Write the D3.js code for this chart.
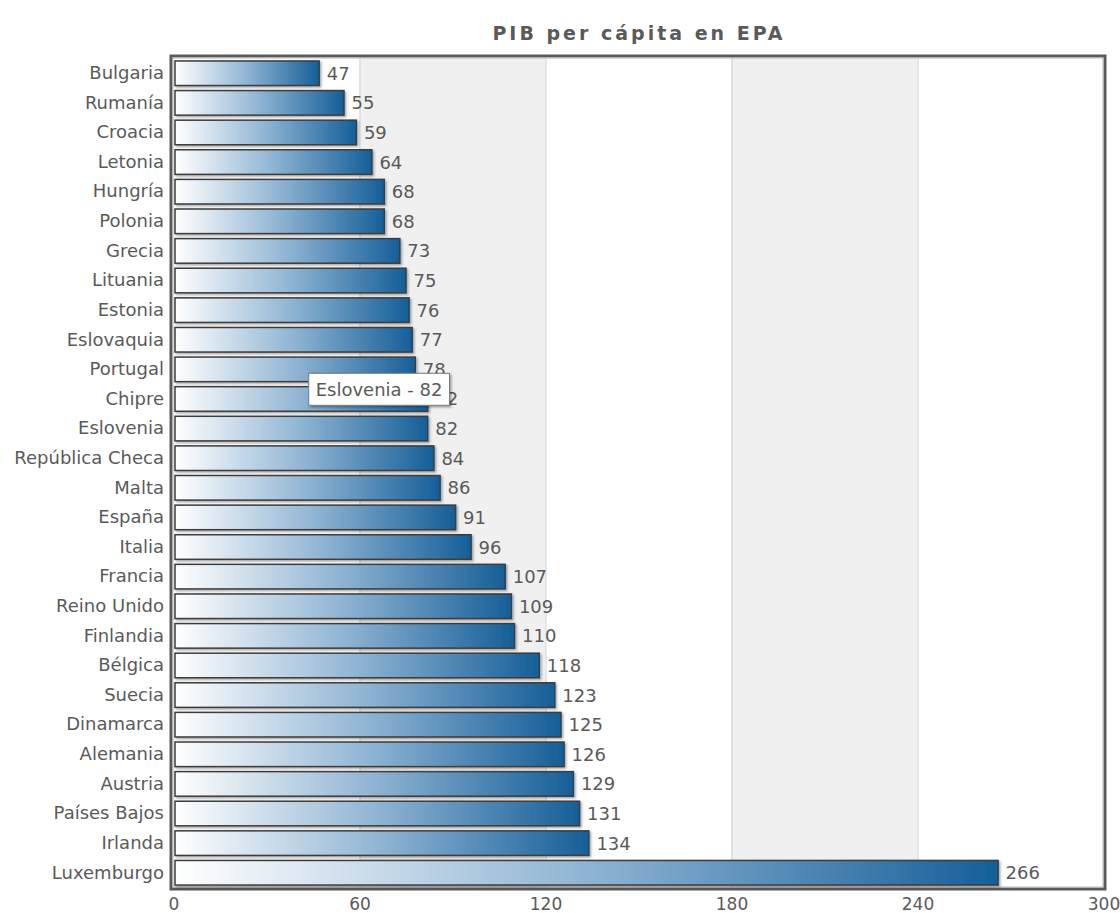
<!DOCTYPE html>
<html>
<head>
<meta charset="utf-8">
<script src="https://cdn.jsdelivr.net/npm/d3@7"></script>
<style>
  body { margin: 0; background: #fff; }
  text { font-family: "DejaVu Sans", Verdana, sans-serif; fill: #5a5a5a; }
</style>
</head>
<body>
<div id="chart"></div>
<script>
const countries = ["Bulgaria", "Rumanía", "Croacia", "Letonia", "Hungría", "Polonia", "Grecia",
  "Lituania", "Estonia", "Eslovaquia", "Portugal", "Chipre", "Eslovenia", "República Checa",
  "Malta", "España", "Italia", "Francia", "Reino Unido", "Finlandia", "Bélgica", "Suecia",
  "Dinamarca", "Alemania", "Austria", "Países Bajos", "Irlanda", "Luxemburgo"];
const values = [47, 55, 59, 64, 68, 68, 73, 75, 76, 77, 78, 82, 82, 84, 86, 91, 96, 107, 109,
  110, 118, 123, 125, 126, 129, 131, 134, 266];
const xTicks = [0, 60, 120, 180, 240, 300];
const title = "PIB per cápita en EPA";
const tooltipCountry = "Eslovenia";

const width = 1120, height = 913;
const frame = { left: 171, top: 56, right: 1105, bottom: 889 };
const font = '"DejaVu Sans", Verdana, sans-serif';

const data = countries.map((c, i) => ({ country: c, value: values[i] }));

const svg = d3.select('#chart').append('svg')
  .attr('width', width).attr('height', height);

const defs = svg.append('defs');
const grad = defs.append('linearGradient').attr('id', 'barGrad')
  .attr('x1', '0%').attr('x2', '100%').attr('y1', '0%').attr('y2', '0%');
grad.append('stop').attr('offset', '0%').attr('stop-color', '#ffffff');
grad.append('stop').attr('offset', '50%').attr('stop-color', '#8fb4d3');
grad.append('stop').attr('offset', '100%').attr('stop-color', '#165f98');

const shadow = defs.append('filter').attr('id', 'shadow')
  .attr('x', '-10%').attr('y', '-10%').attr('width', '130%').attr('height', '140%');
shadow.append('feDropShadow').attr('dx', 1.5).attr('dy', 1.5)
  .attr('stdDeviation', 1).attr('flood-color', '#000').attr('flood-opacity', 0.35);

const x = d3.scaleLinear().domain([0, 300]).range([173.5, 1103.5]);
const y = d3.scaleBand().domain(countries)
  .range([frame.top + 2, frame.bottom - 1]).paddingInner(0.17).paddingOuter(0.1);

// alternating bands
const bands = d3.pairs(xTicks);
svg.append('g').selectAll('rect').data(bands).join('rect')
  .attr('x', d => x(d[0])).attr('width', d => x(d[1]) - x(d[0]))
  .attr('y', frame.top).attr('height', frame.bottom - frame.top)
  .attr('fill', (d, i) => i % 2 ? '#f0f0f0' : '#fff');

// gridlines
svg.append('g')
  .attr('transform', `translate(0, ${frame.top})`)
  .call(d3.axisTop(x).tickValues(xTicks.slice(1, -1)).tickFormat('').tickSize(-(frame.bottom - frame.top)))
  .call(g => g.select('.domain').remove())
  .call(g => g.selectAll('line').attr('stroke', '#cfcfcf'));

// frame
svg.append('rect')
  .attr('x', frame.left).attr('y', frame.top)
  .attr('width', frame.right - frame.left).attr('height', frame.bottom - frame.top)
  .attr('fill', 'none').attr('stroke', '#5a5a5a').attr('stroke-width', 3);
svg.append('rect')
  .attr('x', frame.left + 2).attr('y', frame.top + 2)
  .attr('width', frame.right - frame.left - 4).attr('height', frame.bottom - frame.top - 4)
  .attr('fill', 'none').attr('stroke', '#b8b8b8').attr('stroke-width', 1);

// bars
svg.append('g').selectAll('rect').data(data).join('rect')
  .attr('x', x(0) + 1.5)
  .attr('y', d => y(d.country))
  .attr('width', d => x(d.value) - x(0) - 1.5)
  .attr('height', y.bandwidth())
  .attr('fill', 'url(#barGrad)')
  .attr('stroke', '#3c3c3c').attr('stroke-width', 1.5)
  .attr('filter', 'url(#shadow)');

// value labels
svg.append('g').selectAll('text').data(data).join('text')
  .attr('x', d => x(d.value) + 7.5)
  .attr('y', d => y(d.country) + y.bandwidth() / 2)
  .attr('dy', '0.36em')
  .style('font-size', '18px')
  .text(d => d.value);

// category axis
svg.append('g')
  .attr('transform', `translate(${frame.left - 1}, 0)`)
  .call(d3.axisLeft(y).tickSize(0).tickPadding(6))
  .call(g => g.select('.domain').remove())
  .call(g => g.selectAll('text').style('font-size', '18px').attr('fill', '#5a5a5a')
    .style('font-family', font));

// value axis
svg.append('g')
  .attr('transform', `translate(0, ${frame.bottom})`)
  .call(d3.axisBottom(x).tickValues(xTicks).tickSize(0).tickPadding(9))
  .call(g => g.select('.domain').remove())
  .call(g => g.selectAll('text').style('font-size', '17px').attr('fill', '#5a5a5a')
    .style('font-family', font));

// title
svg.append('text')
  .attr('x', 639).attr('y', 40)
  .attr('text-anchor', 'middle')
  .style('font-size', '19px').style('font-weight', 'bold')
  .style('letter-spacing', '3px')
  .text(title);

// tooltip
const tip = data.find(d => d.country === tooltipCountry);
const tipG = svg.append('g')
  .attr('transform', `translate(${x(tip.value) - 119}, ${y(tip.country) - 43})`);
const tipText = tipG.append('text')
  .attr('x', 7).attr('y', 23)
  .style('font-size', '18px')
  .attr('fill', '#4a4a4a')
  .text(`${tip.country} - ${tip.value}`);
const tw = tipText.node().getComputedTextLength();
tipG.insert('rect', 'text')
  .attr('width', tw + 14).attr('height', 32)
  .attr('fill', '#fff').attr('stroke', '#7a7a7a').attr('stroke-width', 1)
  .attr('filter', 'url(#shadow)');
</script>
</body>
</html>
